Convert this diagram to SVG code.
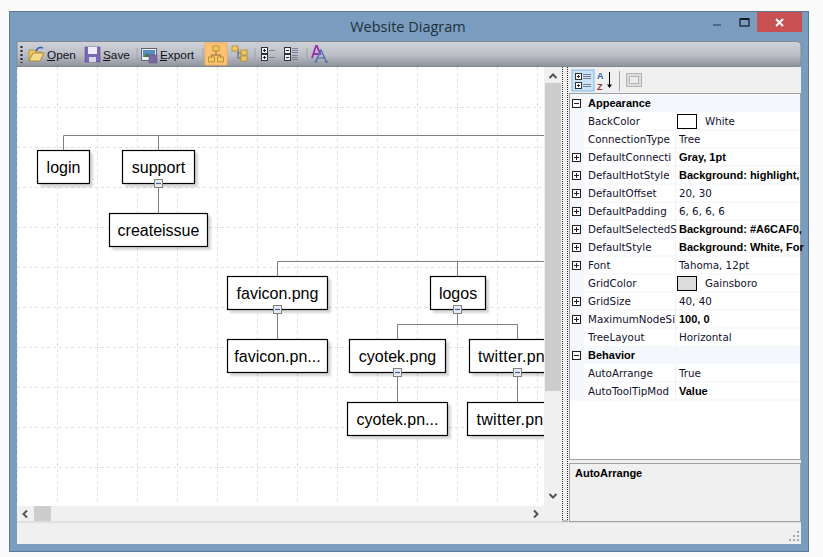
<svg xmlns="http://www.w3.org/2000/svg" width="823" height="557" viewBox="0 0 823 557">
<style>
text{font-family:"Liberation Sans",Arial,sans-serif;fill:#000}
.nt{font-size:16px;text-anchor:middle}
.tw{font-size:16px;letter-spacing:.3px}
.box{fill:#fff;stroke:#000;stroke-width:1.2}
.sh{fill:#000;opacity:.16;filter:url(#bl)}
.conn{stroke:#808080;stroke-width:1;fill:none}
.gr{stroke:#e0e0e0;stroke-width:1;stroke-dasharray:3 3;fill:none}
.hb{fill:#e8ebf4;stroke:#808080;stroke-width:1}
.hm{stroke:#3c5aa8;stroke-width:1.2}
.pt{font-size:10.3px;font-family:"DejaVu Sans",sans-serif;fill:#101030}
.pb{font-weight:bold;font-family:"Liberation Sans",Arial,sans-serif;font-size:11px;fill:#000}
.tb{font-size:11.8px;fill:#101018}
.ex{fill:#fff;stroke:#202020;stroke-width:1}
.es{stroke:#202020;stroke-width:1;fill:none}
.ar{stroke:#555;stroke-width:2;fill:none}
.sep{stroke:#a0a4ac;stroke-width:1}
.fo{fill:#f0c860;stroke:#b08a30;stroke-width:.8}
</style>
<defs>
<filter id="bl" x="-20%" y="-20%" width="140%" height="140%"><feGaussianBlur stdDeviation="1.2"/></filter>
<linearGradient id="tbg" x1="0" y1="0" x2="0" y2="1"><stop offset="0" stop-color="#d0d2d8"/><stop offset=".55" stop-color="#babdc5"/><stop offset="1" stop-color="#8e929a"/></linearGradient>
<clipPath id="cv"><rect x="17" y="67" width="527" height="439"/></clipPath>
</defs>
<rect width="823" height="557" fill="#fafafa"/>
<rect x="9.500" y="11.500" width="799" height="540" fill="#7a9dbf" stroke="#5c7a98"/>
<text x="408" y="32" font-size="14.500" text-anchor="middle" style="font-family:'Open Sans',sans-serif;fill:#20303c">Website Diagram</text>
<g id="window-controls">
<rect x="757" y="12" width="45" height="20" fill="#c75050"/>
<path d="M776 19l7 7M783 19l-7 7" stroke="#fff" stroke-width="2"/>
<rect x="713" y="24" width="8" height="2" fill="#4a6a88"/>
<rect x="740" y="19" width="9" height="7" fill="none" stroke="#101820" stroke-width="1.200"/>
<rect x="740" y="18" width="9" height="2" fill="#101820"/>
</g>
<rect x="17" y="67" width="784" height="477" fill="#f0f0f0"/>
<g id="canvas">
<rect x="17" y="67" width="527" height="439" fill="#fff"/>
<g class="gr">
<path d="M17.500 67V503M57.500 67V503M97.500 67V503M137.500 67V503M177.500 67V503M217.500 67V503M257.500 67V503M297.500 67V503M337.500 67V503M377.500 67V503M417.500 67V503M457.500 67V503M497.500 67V503M537.500 67V503"/>
<path d="M17 107.500H544M17 147.500H544M17 187.500H544M17 227.500H544M17 267.500H544M17 307.500H544M17 347.500H544M17 387.500H544M17 427.500H544M17 467.500H544"/>
</g>
</g>
<g clip-path="url(#cv)">
<g id="connectors" class="conn">
<path d="M63.500 135.500H544M63.500 135.500V150M158.500 135.500V150M158.500 183V213"/>
<path d="M277.500 261.500H544M277.500 261.500V276M457.500 261.500V276M277.500 309V339M457.500 309V324.500M397.500 324.500H517.500M397.500 324.500V339M517.500 324.500V339M397.500 372V402M517.500 372V402"/>
</g>
<g id="node-login"><rect class="sh" x="40" y="153" width="53" height="34"/><rect class="box" x="37.500" y="150.500" width="52" height="33"/><text class="nt" x="63.500" y="173">login</text></g>
<g id="node-support"><rect class="sh" x="125" y="153" width="73" height="34"/><rect class="box" x="122.500" y="150.500" width="72" height="33"/><text class="nt" x="158.500" y="173">support</text><rect class="hb" x="154.500" y="179.500" width="8" height="8"/><path class="hm" d="M156 183.500h5"/></g>
<g id="node-createissue"><rect class="sh" x="112" y="216" width="99" height="34"/><rect class="box" x="109.500" y="213.500" width="98" height="33"/><text class="nt" x="158.500" y="236">createissue</text></g>
<g id="node-favicon"><rect class="sh" x="230" y="279" width="101" height="34"/><rect class="box" x="227.500" y="276.500" width="100" height="33"/><text class="nt" x="277.500" y="299">favicon.png</text><rect class="hb" x="273.500" y="305.500" width="8" height="8"/><path class="hm" d="M275 309.500h5"/></g>
<g id="node-favicon-child"><rect class="sh" x="230" y="342" width="101" height="34"/><rect class="box" x="227.500" y="339.500" width="100" height="33"/><text class="nt" x="277.500" y="362">favicon.pn...</text></g>
<g id="node-logos"><rect class="sh" x="433" y="279" width="56" height="34"/><rect class="box" x="430.500" y="276.500" width="55" height="33"/><text class="nt" x="458" y="299">logos</text><rect class="hb" x="453.500" y="305.500" width="8" height="8"/><path class="hm" d="M455 309.500h5"/></g>
<g id="node-cyotek"><rect class="sh" x="352" y="342" width="97" height="34"/><rect class="box" x="349.500" y="339.500" width="96" height="33"/><text class="nt" x="397.500" y="362">cyotek.png</text><rect class="hb" x="393.500" y="368.500" width="8" height="8"/><path class="hm" d="M395 372.500h5"/></g>
<g id="node-cyotek-child"><rect class="sh" x="350" y="405" width="101" height="34"/><rect class="box" x="347.500" y="402.500" width="100" height="33"/><text class="nt" x="397.500" y="425">cyotek.pn...</text></g>
<g id="node-twitter"><rect class="sh" x="472" y="342" width="97" height="34"/><rect class="box" x="469.500" y="339.500" width="96" height="33"/><text class="tw" x="478" y="362">twitter.pn</text><rect class="hb" x="513.500" y="368.500" width="8" height="8"/><path class="hm" d="M515 372.500h5"/></g>
<g id="node-twitter-child"><rect class="sh" x="470" y="405" width="101" height="34"/><rect class="box" x="467.500" y="402.500" width="100" height="33"/><text class="tw" x="476.500" y="425">twitter.pn</text></g>
</g>
<g id="scrollbars">
<rect x="544" y="67" width="18" height="439" fill="#f0f0f0"/>
<rect x="545" y="83" width="16" height="308" fill="#cdcdcd"/>
<path class="ar" d="M549.500 78l3.500-3.500 3.500 3.500M549.500 494l3.500 3.500 3.500-3.500"/>
<rect x="17" y="506" width="527" height="16" fill="#f0f0f0"/>
<rect x="34" y="506" width="17" height="15" fill="#cdcdcd"/>
<path class="ar" d="M27 510.500l-3.500 3.500 3.500 3.500M534 510.500l3.500 3.500-3.500 3.500"/>
<rect x="17" y="521.500" width="784" height="1" fill="#d0d0d0"/>
</g>
<g id="splitter"><path d="M562.500 67V521M567.500 67V521M562.500 521H567.500" fill="none" stroke="#303030" stroke-dasharray="1 1"/></g>
<g id="toolbar">
<path d="M17 41.500H796Q801 41.500 801 46V62Q801 66.500 796 66.500H17Z" fill="url(#tbg)" stroke="#7f8a96"/>
<path d="M21.500 46v17" stroke="#202020" stroke-width="2" stroke-dasharray="2 2"/>
<path class="fo" d="M29 50h5l2 2h5v2H33l-4 7z"/><path d="M29 61l4-8h11l-4 8z" fill="#f6d98a" stroke="#a07c2c" stroke-width=".8"/>
<path d="M36 51q2-5 7-3" stroke="#3c68b4" stroke-width="1.800" fill="none"/>
<text class="tb" x="47" y="58.500">Open</text><path d="M47 60.500h8" stroke="#101018"/>
<rect x="85" y="47" width="15" height="15" fill="#7a68b4" stroke="#5c4c94" stroke-width=".6"/><rect x="88" y="47" width="9" height="7" fill="#eef"/><rect x="89" y="57" width="7" height="5" fill="#d8d8e4"/>
<text class="tb" x="103" y="58.500">Save</text><path d="M103 60.500h7" stroke="#101018"/>
<path class="sep" d="M137 48v15"/>
<rect x="141.500" y="48.500" width="15" height="12" fill="#e8eef4" stroke="#5a6878"/><rect x="143" y="50" width="12" height="7" fill="#5a8cc0"/><path d="M143 57l4-4 3 3 2-2 3 3z" fill="#4a7a4a"/><rect x="149" y="55" width="8" height="8" fill="#7a68a4" stroke="#5c4c84" stroke-width=".5"/>
<text class="tb" x="160" y="58.500">Export</text><path d="M160 60.500h7" stroke="#101018"/>
<path class="sep" d="M203 48v15"/>
<rect x="205" y="43" width="22" height="22" fill="#ffc274" stroke="#f8ab50" stroke-width=".8"/>
<path d="M216 51v4M211.500 58v-3h9v3" stroke="#8a6a3a" fill="none"/>
<rect class="fo" x="213" y="46" width="6" height="5"/><rect class="fo" x="208.500" y="57" width="6" height="5"/><rect class="fo" x="217.500" y="57" width="6" height="5"/>
<path d="M235 49h3v4h4M238 53v5h3" stroke="#808080" stroke-width="1.600" fill="none"/>
<rect class="fo" x="232" y="46" width="6" height="5"/><rect class="fo" x="241" y="50" width="6" height="5"/><rect class="fo" x="241" y="56" width="6" height="5"/>
<path class="sep" d="M255 48v15"/>
<rect x="261.500" y="47.500" width="6" height="6" fill="#f4f4f8" stroke="#303038"/><rect x="261.500" y="54.500" width="6" height="6" fill="#f4f4f8" stroke="#303038"/><path d="M263 50.500h3M264.500 49v3M263 57.500h3M264.500 56v3" stroke="#202020"/><path d="M269 50.500h6M269 57.500h6" stroke="#7a8098"/>
<rect x="284.500" y="47.500" width="6" height="6" fill="#f4f4f8" stroke="#303038"/><rect x="284.500" y="54.500" width="6" height="6" fill="#f4f4f8" stroke="#303038"/><path d="M286 50.500h3M286 57.500h3" stroke="#202020"/><path d="M292 48.500h6M292 50.500h6M292 52.500h6M292 55.500h6M292 57.500h6M292 59.500h6" stroke="#7a8098"/>
<path class="sep" d="M307 48v15"/>
<path d="M312 58l4-12h1l3.500 9M313.500 54h5" stroke="#9a2aa8" stroke-width="1.800" fill="none"/>
<path d="M315.500 62l5.500-12 5.500 12M317.500 58h7M314.500 62h3M325 62h3" stroke="#3a6ab4" stroke-width="1.200" fill="none"/>
</g>
<g id="property-toolbar">
<rect x="572" y="70" width="22" height="21" fill="#cce4f8" stroke="#6aa8dc" stroke-width=".8"/>
<rect x="575.500" y="73.500" width="6" height="6" fill="#fff" stroke="#303030"/><rect x="575.500" y="82.500" width="6" height="6" fill="#fff" stroke="#303030"/><path d="M577 76.500h3M578.500 75v3M577 85.500h3M578.500 84v3" stroke="#303030"/><path d="M583 74.500h8M583 76.500h8M583 78.500h8M583 84.500h8M583 86.500h8" stroke="#7a8098"/>
<text x="597" y="79" style="font-size:9px;font-weight:bold;fill:#3060b0">A</text><text x="597" y="89.500" style="font-size:9px;font-weight:bold;fill:#a03030">Z</text>
<path d="M609.500 72v14" stroke="#000"/><path d="M607 84.500l2.500 3.500 2.500-3.500z" fill="#000"/>
<path class="sep" d="M619.500 71v20"/>
<rect x="626.500" y="73.500" width="15" height="13" fill="#dcdcdc" stroke="#b4b4b4"/><path d="M629.500 76.500h9v7h-9z" fill="#ececec" stroke="#b4b4b4"/>
</g>
<g id="property-grid">
<rect x="569.500" y="93.500" width="231" height="366" fill="#fff" stroke="#a0a0a0"/>
<rect x="570" y="94" width="230" height="18" fill="#f4f7fc"/>
<rect x="570" y="346" width="230" height="18" fill="#f4f7fc"/>
<rect x="570" y="94" width="14" height="306" fill="#f4f7fc"/>
<path d="M584 130H800M584 148H800M584 166H800M584 184H800M584 202H800M584 220H800M584 238H800M584 256H800M584 274H800M584 292H800M584 310H800M584 328H800M584 382H800M570 400H800" stroke="#f0f3f8"/>
<path d="M675.500 112V346M675.500 364V400" stroke="#f0f3f8"/>
<g class="ex">
<rect x="572.500" y="99.500" width="8" height="8"/><rect x="572.500" y="153.500" width="8" height="8"/><rect x="572.500" y="171.500" width="8" height="8"/><rect x="572.500" y="189.500" width="8" height="8"/><rect x="572.500" y="207.500" width="8" height="8"/><rect x="572.500" y="225.500" width="8" height="8"/><rect x="572.500" y="243.500" width="8" height="8"/><rect x="572.500" y="261.500" width="8" height="8"/><rect x="572.500" y="297.500" width="8" height="8"/><rect x="572.500" y="315.500" width="8" height="8"/><rect x="572.500" y="351.500" width="8" height="8"/>
</g>
<path class="es" d="M574 103.500h5M574 157.500h5M576.500 155v5M574 175.500h5M576.500 173v5M574 193.500h5M576.500 191v5M574 211.500h5M576.500 209v5M574 229.500h5M576.500 227v5M574 247.500h5M576.500 245v5M574 265.500h5M576.500 263v5M574 301.500h5M576.500 299v5M574 319.500h5M576.500 317v5M574 355.500h5"/>
<text class="pb" x="588" y="107">Appearance</text>
<text class="pb" x="588" y="359">Behavior</text>
<text class="pt" x="588" y="125">BackColor</text>
<text class="pt" x="588" y="143">ConnectionType</text>
<text class="pt" x="588" y="161">DefaultConnecti</text>
<text class="pt" x="588" y="179">DefaultHotStyle</text>
<text class="pt" x="588" y="197">DefaultOffset</text>
<text class="pt" x="588" y="215">DefaultPadding</text>
<text class="pt" x="588" y="233">DefaultSelectedS</text>
<text class="pt" x="588" y="251">DefaultStyle</text>
<text class="pt" x="588" y="269">Font</text>
<text class="pt" x="588" y="287">GridColor</text>
<text class="pt" x="588" y="305">GridSize</text>
<text class="pt" x="588" y="323">MaximumNodeSi</text>
<text class="pt" x="588" y="341">TreeLayout</text>
<text class="pt" x="588" y="377">AutoArrange</text>
<text class="pt" x="588" y="395">AutoToolTipMod</text>
<rect x="677.500" y="114.500" width="19" height="14" fill="#fff" stroke="#000"/>
<text class="pt" x="705" y="125">White</text>
<text class="pt" x="679" y="143">Tree</text>
<text class="pb" x="679" y="161">Gray, 1pt</text>
<text class="pb" x="679" y="179">Background: highlight,</text>
<text class="pt" x="679" y="197">20, 30</text>
<text class="pt" x="679" y="215">6, 6, 6, 6</text>
<text class="pb" x="679" y="233">Background: #A6CAF0,</text>
<text class="pb" x="679" y="251">Background: White, For</text>
<text class="pt" x="679" y="269">Tahoma, 12pt</text>
<rect x="677.500" y="276.500" width="19" height="14" fill="#dcdcdc" stroke="#000"/>
<text class="pt" x="705" y="287">Gainsboro</text>
<text class="pt" x="679" y="305">40, 40</text>
<text class="pb" x="679" y="323">100, 0</text>
<text class="pt" x="679" y="341">Horizontal</text>
<text class="pt" x="679" y="377">True</text>
<text class="pb" x="679" y="395">Value</text>
</g>
<g id="description">
<rect x="569.500" y="463.500" width="231" height="58" fill="#f0f0f0" stroke="#a0a0a0"/>
<text class="pb" x="575" y="477">AutoArrange</text>
</g>
<g id="grip" fill="#a8a8a8"><rect x="797" y="531" width="2" height="2"/><rect x="793" y="535" width="2" height="2"/><rect x="797" y="535" width="2" height="2"/><rect x="789" y="539" width="2" height="2"/><rect x="793" y="539" width="2" height="2"/><rect x="797" y="539" width="2" height="2"/></g>
</svg>
